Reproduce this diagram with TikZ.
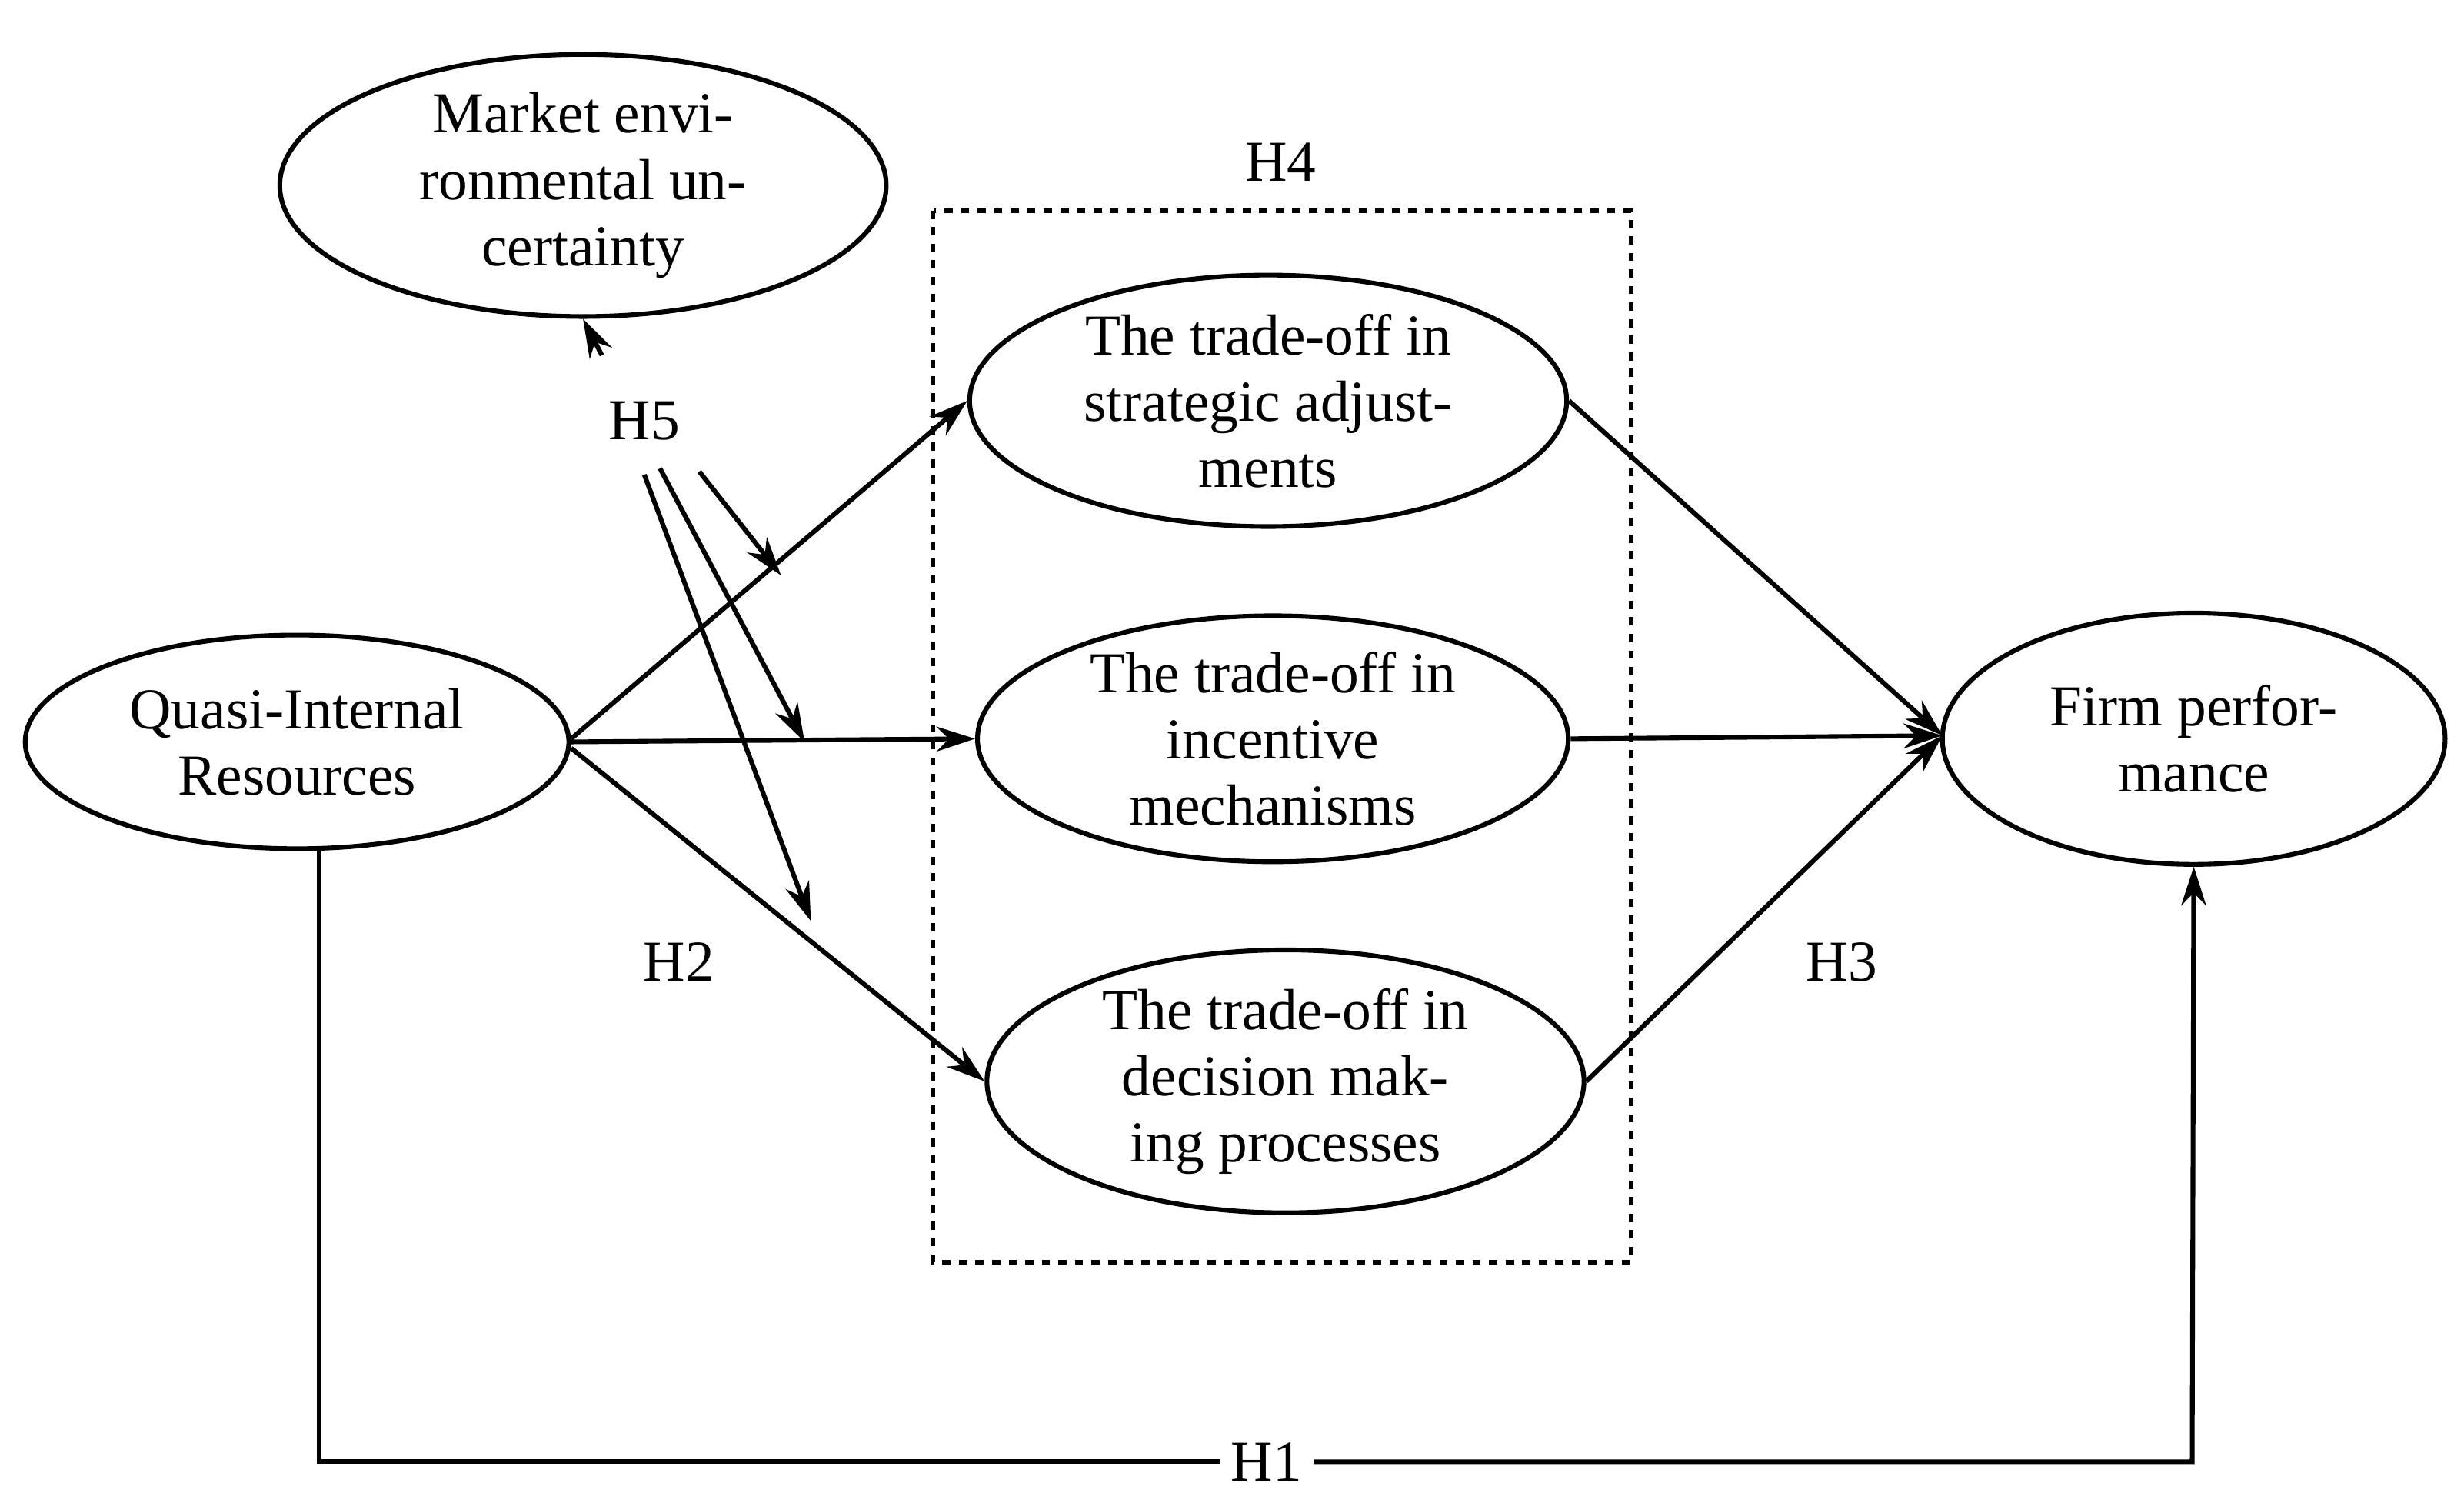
\documentclass[tikz,border=0pt]{standalone}
\usepackage{fontspec}
\setmainfont{Liberation Serif}
\usetikzlibrary{shapes.geometric,arrows.meta}
\begin{document}
\begin{tikzpicture}[x=0.02cm,y=-0.02cm,line width=1.7pt,
  el/.style={ellipse,draw,align=center,inner sep=0pt,font=\fontsize{21}{24}\selectfont},
  lb/.style={font=\fontsize{21}{24}\selectfont},
  ar/.style={-{Stealth[length=14pt,width=9pt]}}]
\useasboundingbox (0,0) rectangle (1568,956);
\node[el,minimum width=386\pgflinewidth*0+7.72cm,minimum height=3cm] (mk) at (371,118) {Market envi-\\ronmental un-\\certainty};
\node[el,minimum width=6.92cm,minimum height=2.72cm] (qi) at (189,472) {Quasi-Internal\\Resources};
\node[el,minimum width=7.6cm,minimum height=3.2cm] (st) at (807,255) {The trade-off in\\strategic adjust-\\ments};
\node[el,minimum width=7.52cm,minimum height=3.12cm] (in) at (810,470) {The trade-off in\\incentive\\mechanisms};
\node[el,minimum width=7.6cm,minimum height=3.2cm] (de) at (818,688) {The trade-off in\\decision mak-\\ing processes};
\node[el,minimum width=6.4cm,minimum height=3.2cm] (fp) at (1396,470) {Firm perfor-\\mance};
\draw[dashed,line width=1.5pt] (594,134) rectangle (1038,803);
\node[lb] (h4) at (815,103) {H4};
\node[lb] (h5) at (410,268) {H5};
\node[lb] (h2) at (432,612) {H2};
\node[lb] (h3) at (1172,612) {H3};
\node[lb] (h1) at (806,930) {H1};
\draw[ar] (qi.east) ++(0,-2) -- (st.west);
\draw[ar] (qi.east) -- (in.west);
\draw[ar] (qi.east) ++(0,4) -- (de.west);
\coordinate (fa) at (1236,468);
\draw[ar] (st.east) -- (fa);
\draw[ar] (in.east) -- (fa);
\draw[ar] (de.east) -- (fa);
\coordinate (q1) at (203,540);
\coordinate (c1) at (203,930);
\coordinate (c2) at (1395,930);
\draw (q1) -- (c1) -- (h1.west);
\draw[ar] (h1.east) -- (c2) -- (fp.south);
\coordinate (s1) at (445,300); \coordinate (e1) at (497,366);
\coordinate (s2) at (420,298); \coordinate (e2) at (512,472);
\coordinate (s3) at (410,302); \coordinate (e3) at (516,586);
\draw[ar] (s1) -- (e1);
\draw[ar] (s2) -- (e2);
\draw[ar] (s3) -- (e3);
\coordinate (m1) at (383,226);
\draw[ar] (m1) -- (mk.south);
\end{tikzpicture}
\end{document}
